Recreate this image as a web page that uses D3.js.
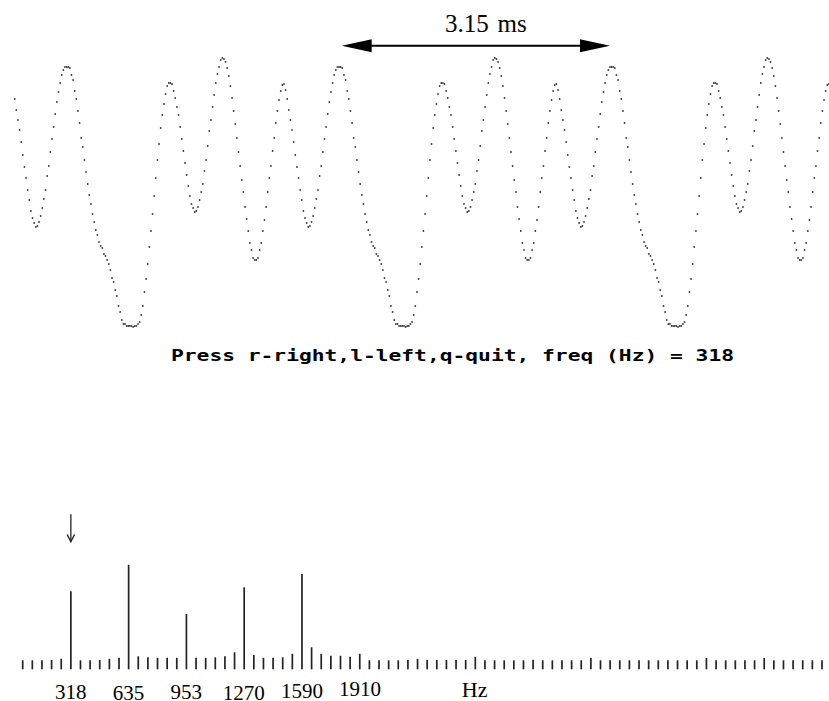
<!DOCTYPE html>
<html>
<head>
<meta charset="utf-8">
<script src="https://cdn.jsdelivr.net/npm/d3@7"></script>
<style>
  body { margin: 0; background: #fff; }
  svg { display: block; }
</style>
</head>
<body>
<svg id="chart"></svg>
<script>
// Dimensions
const svg_width = 829;
const svg_height = 701;

// Waveform samples (amplitude units), three cycles
const waveSamples = [
  91, 80, 70, 60, 48, 35, 23, 12, 0, -10, -21, -28, -33, -37, -36, -32, -26, -18, -9, 0,
  14, 24, 38, 51, 63, 76, 88, 98, 107, 115, 120, 123, 123, 123, 122, 115, 110, 99, 91, 79,
  67, 52, 43, 30, 18, 6, -5, -14, -24, -32, -40, -45, -52, -56, -58, -64, -66, -70, -74, -80,
  -88, -92, -100, -106, -116, -122, -130, -134, -134, -136, -136, -136, -136, -137, -136, -136, -134, -132, -125, -116,
  -102, -89, -74, -57, -41, -24, -6, 12, 30, 46, 62, 75, 86, 96, 104, 107, 107, 106, 99, 92,
  83, 75, 63, 51, 39, 27, 15, 4, -6, -14, -18, -22, -21, -17, -10, -2, 6, 19, 30, 44,
  59, 70, 83, 95, 107, 116, 123, 130, 132, 131, 128, 122, 114, 104, 92, 79, 66, 52, 38, 24,
  10, -2, -17, -29, -41, -53, -60, -68, -70, -70, -68, -60, -53, -41, -30, -17, -2, 12, 24, 39,
  52, 67, 79, 90, 99, 105, 106, 100,
  91, 80, 70, 60, 48, 35, 23, 12, 0, -10, -21, -28, -33, -37, -36, -32, -26, -18, -9, 0,
  14, 24, 38, 51, 63, 76, 88, 98, 107, 115, 120, 123, 123, 123, 122, 115, 110, 99, 91, 79,
  67, 52, 43, 30, 18, 6, -5, -14, -24, -32, -40, -45, -52, -56, -58, -64, -66, -70, -74, -80,
  -88, -92, -100, -106, -116, -122, -130, -134, -134, -136, -136, -136, -136, -137, -136, -136, -134, -132, -125, -116,
  -102, -89, -74, -57, -41, -24, -6, 12, 30, 46, 62, 75, 86, 96, 104, 107, 107, 106, 99, 92,
  83, 75, 63, 51, 39, 27, 15, 4, -6, -14, -18, -22, -21, -17, -10, -2, 6, 19, 30, 44,
  59, 70, 83, 95, 107, 116, 123, 130, 132, 131, 128, 122, 114, 104, 92, 79, 66, 52, 38, 24,
  10, -2, -17, -29, -41, -53, -60, -68, -70, -70, -68, -60, -53, -41, -30, -17, -2, 12, 24, 39,
  52, 67, 79, 90, 99, 105, 106, 100,
  91, 80, 70, 60, 48, 35, 23, 12, 0, -10, -21, -28, -33, -37, -36, -32, -26, -18, -9, 0,
  14, 24, 38, 51, 63, 76, 88, 98, 107, 115, 120, 123, 123, 123, 122, 115, 110, 99, 91, 79,
  67, 52, 43, 30, 18, 6, -5, -14, -24, -32, -40, -45, -52, -56, -58, -64, -66, -70, -74, -80,
  -88, -92, -100, -106, -116, -122, -130, -134, -134, -136, -136, -136, -136, -137, -136, -136, -134, -132, -125, -116,
  -102, -89, -74, -57, -41, -24, -6, 12, 30, 46, 62, 75, 86, 96, 104, 107, 107, 106, 99, 92,
  83, 75, 63, 51, 39, 27, 15, 4, -6, -14, -18, -22, -21, -17, -10, -2, 6, 19, 30, 44,
  59, 70, 83, 95, 107, 116, 123, 130, 132, 131, 128, 122, 114, 104, 92, 79, 66, 52, 38, 24,
  10, -2, -17, -29, -41, -53, -60, -68, -70, -70, -68, -60, -53, -41, -30, -17, -2, 12, 24, 39,
  52, 67, 79, 90, 99, 105, 106
];

// Spectrum: one level per 53 Hz bin, bins 1..84
const binHz = 53;
const spectrumLevels = [
  9, 9, 9, 9.3, 10.5, 78, 9, 9, 9.3, 10.5, 11.5, 104.5,
  13, 12, 11.5, 11.5, 11.5, 55.3, 11.5, 11.5, 12, 13, 17, 82,
  14.3, 11.5, 11.5, 12, 15.5, 95.3, 22, 15.5, 13.5, 13.5, 12.5, 15.5,
  9, 9, 9, 9, 9.3, 10.5, 9.5, 9.3, 9.3, 9.3, 9.3, 12.5,
  9, 9, 9, 9, 9, 9.5, 9, 9, 9, 9, 9, 11.3,
  9, 9, 9, 9, 9, 9, 9, 9, 9, 9, 9, 11.3,
  9, 9, 9, 9, 9, 11.3, 9, 9, 9, 9, 9, 9
];

// Harmonic tick labels
const harmonicHz = [318, 635, 953, 1270, 1590, 1910];
const harmonicLabels = ["318", "635", "953", "1270", "1590", "1910"];
const unitLabel = "Hz";
const unitHz = 2540;

// Selected frequency and period annotation
const selectedHz = 318;
const periodLabel = "3.15 ms";

const svg = d3.select("#chart")
  .attr("width", svg_width)
  .attr("height", svg_height);

svg.append("rect")
  .attr("width", svg_width)
  .attr("height", svg_height)
  .attr("fill", "#fff");

// Waveform scales
const waveX = d3.scaleLinear()
  .domain([0, waveSamples.length - 1])
  .range([14.7, 828.9]);

const waveY = d3.scaleLinear()
  .domain([-140, 140])
  .range([330, 50]);

// Dotted trace
svg.append("g")
  .selectAll("rect")
  .data(waveSamples)
  .enter()
  .append("rect")
  .attr("x", (d, i) => waveX(i) - 0.75)
  .attr("y", d => waveY(d) - 0.75)
  .attr("width", 1.5)
  .attr("height", 1.5)
  .attr("fill", "#111");

// Period arrow
const arrow = svg.append("g");
arrow.append("line")
  .attr("x1", 360).attr("x2", 592)
  .attr("y1", 45.7).attr("y2", 45.7)
  .attr("stroke", "#000")
  .attr("stroke-width", 2);
arrow.append("path")
  .attr("d", "M341.7,45.7 L371.7,39.2 L371.7,52.2 Z")
  .attr("fill", "#000");
arrow.append("path")
  .attr("d", "M610,45.7 L580,39.2 L580,52.2 Z")
  .attr("fill", "#000");
arrow.append("text")
  .attr("x", 445)
  .attr("y", 31.7)
  .attr("font-family", "Liberation Serif, Times New Roman, serif")
  .attr("font-size", 25)
  .attr("word-spacing", 2.5)
  .attr("fill", "#000")
  .text(periodLabel);

// Prompt line
svg.append("text")
  .attr("x", 171)
  .attr("y", 361)
  .attr("font-family", "DejaVu Sans Mono, monospace")
  .attr("font-weight", "bold")
  .attr("font-size", 15)
  .attr("textLength", 563)
  .attr("lengthAdjust", "spacingAndGlyphs")
  .attr("fill", "#000")
  .style("white-space", "pre")
  .text(`Press r-right,l-left,q-quit, freq (Hz) = ${selectedHz}`);

// Spectrum scales
const specX = d3.scaleLinear()
  .domain([0, binHz * 84])
  .range([13.07, 13.07 + 84 * 9.63]);

const specY = d3.scaleLinear()
  .domain([0, 110])
  .range([669.3, 559.3]);

// Spectrum lines
svg.append("g")
  .selectAll("line")
  .data(spectrumLevels)
  .enter()
  .append("line")
  .attr("x1", (d, i) => specX((i + 1) * binHz))
  .attr("x2", (d, i) => specX((i + 1) * binHz))
  .attr("y1", specY(0))
  .attr("y2", d => specY(d))
  .attr("stroke", "#222")
  .attr("stroke-width", 1.7);

// Harmonic labels (slightly staggered like the original)
const labelDy = [0, 1.5, 0, 1.5, -0.7, -3];
svg.append("g")
  .selectAll("text")
  .data(harmonicLabels)
  .enter()
  .append("text")
  .attr("x", (d, i) => specX(harmonicHz[i]))
  .attr("y", (d, i) => 698.5 + labelDy[i])
  .attr("text-anchor", "middle")
  .attr("font-family", "Liberation Serif, Times New Roman, serif")
  .attr("font-size", 21)
  .attr("fill", "#000")
  .text(d => d);

svg.append("text")
  .attr("x", specX(unitHz))
  .attr("y", 696.7)
  .attr("text-anchor", "middle")
  .attr("font-family", "Liberation Serif, Times New Roman, serif")
  .attr("font-size", 22)
  .attr("fill", "#000")
  .text(unitLabel);

// Marker above the selected harmonic
const mx = specX(selectedHz);
svg.append("line")
  .attr("x1", mx).attr("x2", mx)
  .attr("y1", 514.3).attr("y2", 540.5)
  .attr("stroke", "#333")
  .attr("stroke-width", 1.4);
svg.append("path")
  .attr("d", `M${mx - 3.7},534.5 L${mx},541.7 L${mx + 3.7},534.5`)
  .attr("fill", "none")
  .attr("stroke", "#222")
  .attr("stroke-width", 1.4);
</script>
</body>
</html>
